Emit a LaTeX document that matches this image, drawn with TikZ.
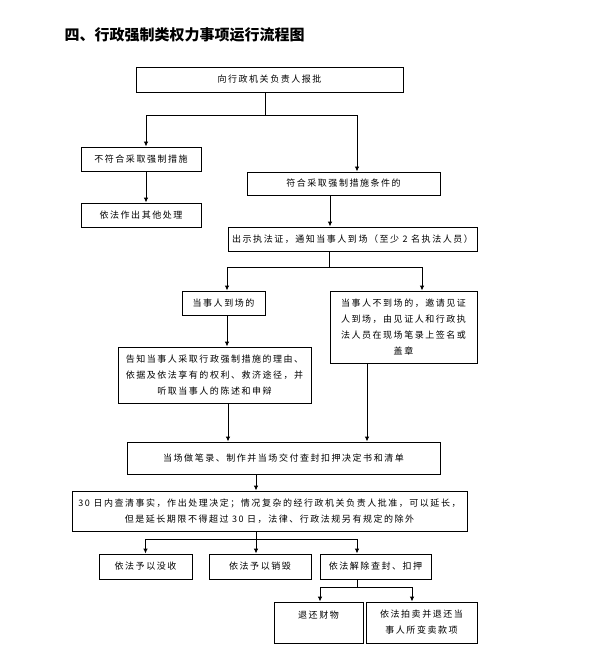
\documentclass[tikz,border=0pt]{standalone}
\usepackage{fontspec}
\newfontfamily\cjk[LetterSpace=17]{Noto Sans CJK SC}
\newfontfamily\cjktitle{Noto Sans CJK SC}
\usetikzlibrary{arrows.meta}
\begin{document}
\begin{tikzpicture}[x=1pt,y=-1pt,
  box/.style={draw=black,line width=0.9pt,inner sep=0pt,align=center,
    font=\cjk\fontsize{9}{16}\selectfont},
  ln/.style={draw=black,line width=0.9pt},
  arr/.style={ln,-{Latex[length=5pt,width=4.5pt]}}]
\useasboundingbox (0,0) rectangle (600,671);
\node[anchor=west,font=\cjktitle\bfseries\fontsize{15}{18}\selectfont] (title) at (61,35) {四、行政强制类权力事项运行流程图};

\node[box,minimum width=267,minimum height=25] (top) at (269.5,79.5) {向行政机关负责人报批};
\node[box,minimum width=120,minimum height=24] (no) at (141,159) {不符合采取强制措施};
\node[box,minimum width=120,minimum height=24] (other) at (141,215) {依法作出其他处理};
\node[box,minimum width=193,minimum height=23] (yes) at (343.5,183.5) {符合采取强制措施条件的};
\node[box,minimum width=249,minimum height=24] (show) at (352.5,239) {出示执法证，通知当事人到场（至少 2 名执法人员）};
\node[box,minimum width=83,minimum height=24] (present) at (223.5,303) {当事人到场的};
\node[box,minimum width=147,minimum height=72] (absent) at (403.5,327) {当事人不到场的，邀请见证\\人到场，由见证人和行政执\\法人员在现场笔录上签名或\\盖章};
\node[box,minimum width=193,minimum height=56] (inform) at (214.5,375) {告知当事人采取行政强制措施的理由、\\依据及依法享有的权利、救济途径，并\\听取当事人的陈述和申辩};
\node[box,minimum width=313,minimum height=32] (record) at (283.5,458) {当场做笔录、制作并当场交付查封扣押决定书和清单};
\node[box,minimum width=395,minimum height=40] (decide) at (269.5,511) {30 日内查清事实，作出处理决定；情况复杂的经行政机关负责人批准，可以延长，\\但是延长期限不得超过 30 日，法律、行政法规另有规定的除外};
\node[box,minimum width=93,minimum height=25] (confis) at (145.5,566.5) {依法予以没收};
\node[box,minimum width=102,minimum height=25] (destroy) at (260,566.5) {依法予以销毁};
\node[box,minimum width=111,minimum height=25] (release) at (375.5,566.5) {依法解除查封、扣押};
\node[box,minimum width=89,minimum height=41] (return) at (318.5,622.5) {退还财物\\\mbox{}};
\node[box,minimum width=111,minimum height=41] (auction) at (421.5,622.5) {依法拍卖并退还当\\事人所变卖款项};

% x guides and junctions
\coordinate (j1) at (265,115);
\coordinate (xno) at (146,0);
\coordinate (xyes) at (357,0);
\coordinate (xshow) at (330,0);
\coordinate (j2) at (329,267);
\coordinate (xpres) at (227,0);
\coordinate (xabs) at (422,0);
\coordinate (xinf) at (228,0);
\coordinate (xab2) at (367,0);
\coordinate (xrec) at (256,0);
\coordinate (j3) at (256,539);
\coordinate (xrel) at (357,0);
\coordinate (j4) at (357,587);
\coordinate (xret) at (320,0);
\coordinate (xauc) at (412,0);

\draw[ln] (top.south -| j1) -- (j1);
\draw[arr] (j1) -| (no.north -| xno);
\draw[arr] (j1) -| (yes.north -| xyes);
\draw[arr] (no.south -| xno) -- (other.north -| xno);
\draw[arr] (yes.south -| xshow) -- (show.north -| xshow);
\draw[ln] (show.south -| j2) -- (j2);
\draw[arr] (j2) -| (present.north -| xpres);
\draw[arr] (j2) -| (absent.north -| xabs);
\draw[arr] (present.south -| xpres) -- (inform.north -| xpres);
\draw[arr] (inform.south -| xinf) -- (record.north -| xinf);
\draw[arr] (absent.south -| xab2) -- (record.north -| xab2);
\draw[arr] (record.south -| xrec) -- (decide.north -| xrec);
\draw[ln] (decide.south -| j3) -- (j3);
\draw[arr] (j3) -| (confis.north);
\draw[arr] (j3) -- (destroy.north -| j3);
\draw[arr] (j3) -| (release.north -| xrel);
\draw[ln] (release.south -| j4) -- (j4);
\draw[arr] (j4) -| (return.north -| xret);
\draw[arr] (j4) -| (auction.north -| xauc);
\end{tikzpicture}
\end{document}
